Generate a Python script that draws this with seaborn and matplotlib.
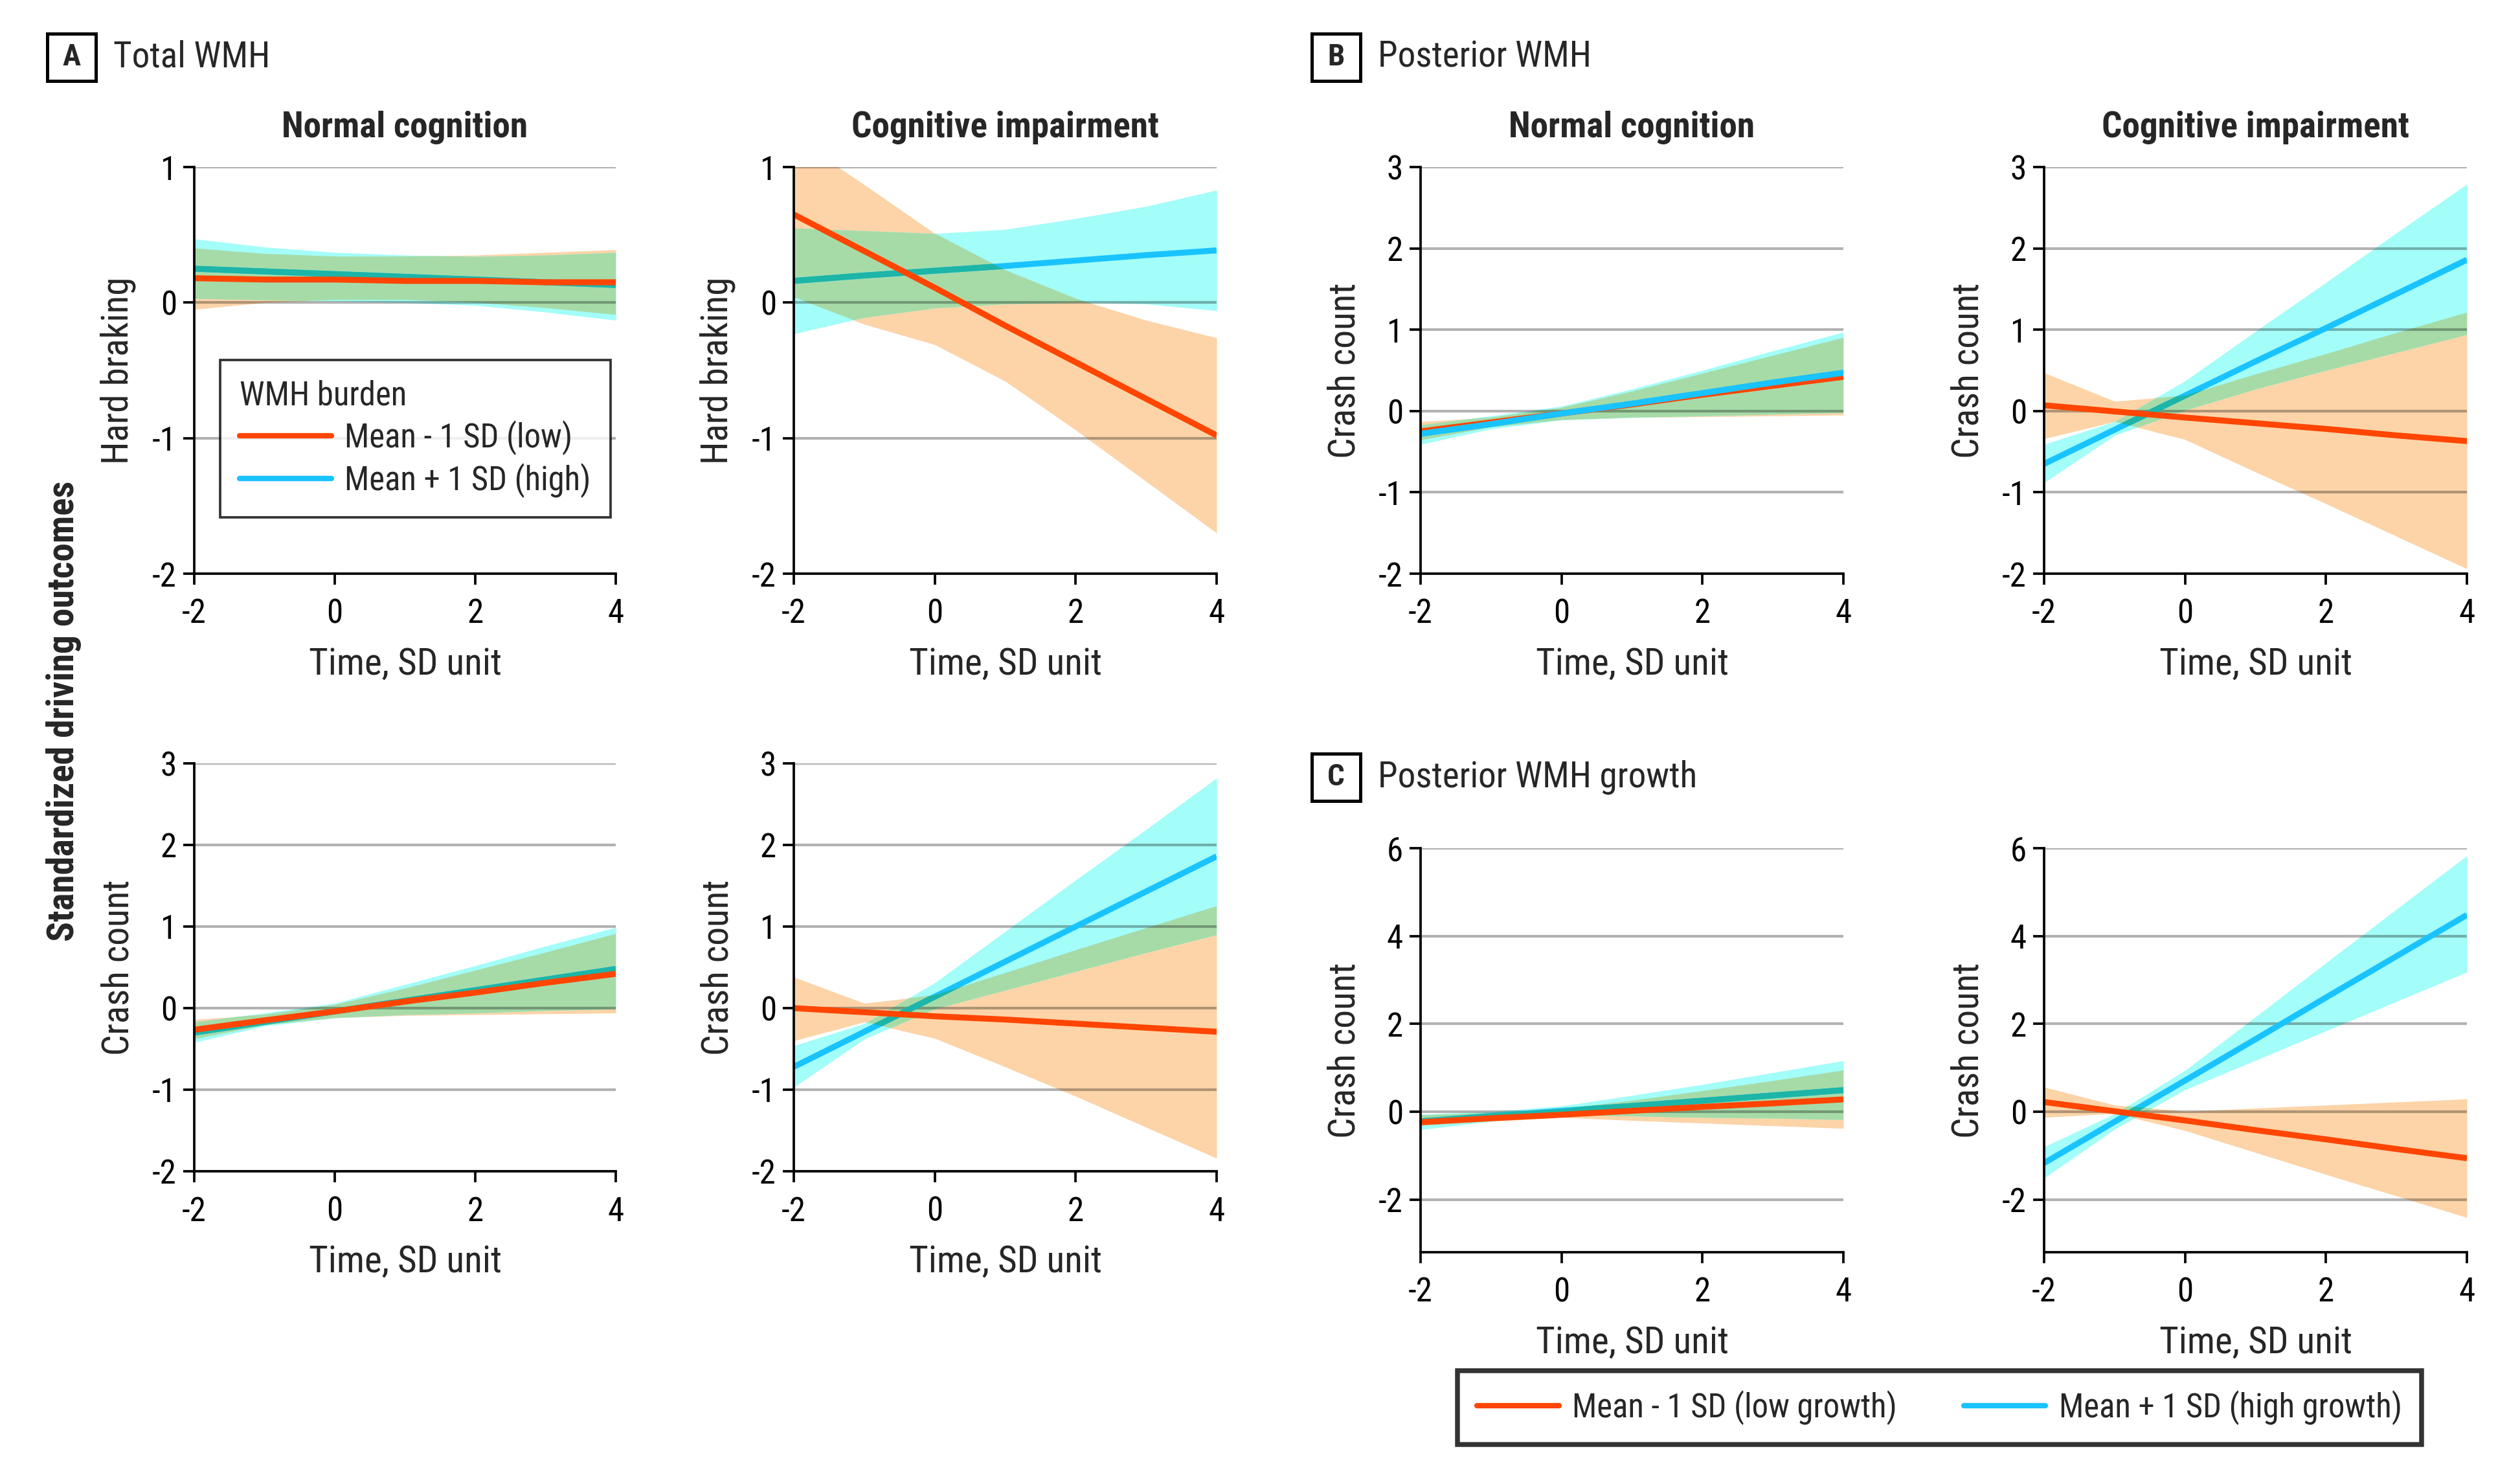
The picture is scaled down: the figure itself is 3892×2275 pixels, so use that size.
import dataclasses
import os
import matplotlib
matplotlib.use("Agg")
import matplotlib.pyplot as plt
import seaborn as sns
from matplotlib import font_manager
from matplotlib.lines import Line2D
from matplotlib.patches import Rectangle

# time points (SD units)
time = [-2, -1, 0, 1, 2, 3, 4]

# A. Total WMH - normal cognition - hard braking
a_nc_brake_low = [0.18, 0.17, 0.17, 0.16, 0.16, 0.15, 0.15]
a_nc_brake_low_lo = [-0.05, 0.00, 0.02, 0.02, 0.00, -0.04, -0.09]
a_nc_brake_low_hi = [0.40, 0.36, 0.34, 0.34, 0.35, 0.37, 0.39]
a_nc_brake_high = [0.25, 0.23, 0.21, 0.19, 0.17, 0.15, 0.13]
a_nc_brake_high_lo = [0.03, 0.02, 0.01, 0.00, -0.02, -0.07, -0.13]
a_nc_brake_high_hi = [0.47, 0.41, 0.37, 0.35, 0.34, 0.35, 0.37]

# A. Total WMH - cognitive impairment - hard braking
a_ci_brake_low = [0.65, 0.38, 0.11, -0.17, -0.44, -0.71, -0.98]
a_ci_brake_low_lo = [0.04, -0.16, -0.31, -0.58, -0.94, -1.32, -1.70]
a_ci_brake_low_hi = [1.22, 0.87, 0.51, 0.24, 0.03, -0.13, -0.26]
a_ci_brake_high = [0.16, 0.20, 0.235, 0.27, 0.31, 0.35, 0.385]
a_ci_brake_high_lo = [-0.23, -0.11, -0.04, -0.01, 0.00, -0.01, -0.06]
a_ci_brake_high_hi = [0.55, 0.53, 0.51, 0.54, 0.62, 0.71, 0.83]

# A. Total WMH - normal cognition - crash count
a_nc_crash_low = [-0.265, -0.15, -0.04, 0.08, 0.19, 0.31, 0.42]
a_nc_crash_low_lo = [-0.38, -0.21, -0.12, -0.09, -0.08, -0.07, -0.06]
a_nc_crash_low_hi = [-0.14, -0.08, 0.04, 0.24, 0.46, 0.68, 0.91]
a_nc_crash_high = [-0.30, -0.17, -0.04, 0.09, 0.22, 0.35, 0.48]
a_nc_crash_high_lo = [-0.42, -0.22, -0.12, -0.08, -0.06, -0.03, -0.01]
a_nc_crash_high_hi = [-0.17, -0.06, 0.06, 0.29, 0.52, 0.76, 0.99]

# A. Total WMH - cognitive impairment - crash count
a_ci_crash_low = [0.00, -0.05, -0.10, -0.14, -0.19, -0.24, -0.29]
a_ci_crash_low_lo = [-0.40, -0.17, -0.37, -0.72, -1.08, -1.46, -1.84]
a_ci_crash_low_hi = [0.38, 0.06, 0.16, 0.43, 0.71, 0.98, 1.25]
a_ci_crash_high = [-0.72, -0.29, 0.14, 0.57, 1.00, 1.43, 1.86]
a_ci_crash_high_lo = [-0.97, -0.38, -0.01, 0.22, 0.45, 0.68, 0.90]
a_ci_crash_high_hi = [-0.46, -0.19, 0.31, 0.94, 1.57, 2.19, 2.82]

# B. Posterior WMH - normal cognition - crash count
b_nc_crash_low = [-0.25, -0.14, -0.03, 0.08, 0.20, 0.31, 0.42]
b_nc_crash_low_lo = [-0.36, -0.20, -0.11, -0.08, -0.07, -0.06, -0.05]
b_nc_crash_low_hi = [-0.13, -0.08, 0.04, 0.24, 0.46, 0.68, 0.90]
b_nc_crash_high = [-0.28, -0.16, -0.03, 0.09, 0.22, 0.35, 0.47]
b_nc_crash_high_lo = [-0.41, -0.22, -0.11, -0.08, -0.06, -0.04, -0.02]
b_nc_crash_high_hi = [-0.17, -0.06, 0.06, 0.27, 0.50, 0.74, 0.97]

# B. Posterior WMH - cognitive impairment - crash count
b_ci_crash_low = [0.07, -0.005, -0.08, -0.15, -0.22, -0.30, -0.37]
b_ci_crash_low_lo = [-0.34, -0.13, -0.35, -0.75, -1.14, -1.54, -1.94]
b_ci_crash_low_hi = [0.47, 0.12, 0.19, 0.45, 0.70, 0.96, 1.21]
b_ci_crash_high = [-0.65, -0.23, 0.19, 0.61, 1.02, 1.44, 1.86]
b_ci_crash_high_lo = [-0.88, -0.30, 0.01, 0.27, 0.50, 0.72, 0.94]
b_ci_crash_high_hi = [-0.41, -0.13, 0.37, 0.98, 1.58, 2.19, 2.79]

# C. Posterior WMH growth - normal cognition - crash count
c_nc_crash_low = [-0.24, -0.15, -0.07, 0.02, 0.11, 0.19, 0.28]
c_nc_crash_low_lo = [-0.32, -0.22, -0.13, -0.20, -0.26, -0.32, -0.38]
c_nc_crash_low_hi = [-0.08, -0.03, 0.06, 0.25, 0.47, 0.70, 0.94]
c_nc_crash_high = [-0.22, -0.10, 0.02, 0.13, 0.25, 0.37, 0.49]
c_nc_crash_high_lo = [-0.41, -0.22, -0.07, -0.10, -0.13, -0.15, -0.18]
c_nc_crash_high_hi = [-0.06, 0.00, 0.13, 0.37, 0.62, 0.89, 1.16]

# C. Posterior WMH growth - cognitive impairment - crash count
c_ci_crash_low = [0.22, 0.01, -0.20, -0.42, -0.63, -0.85, -1.06]
c_ci_crash_low_lo = [-0.13, -0.04, -0.43, -0.93, -1.43, -1.92, -2.41]
c_ci_crash_low_hi = [0.56, 0.15, 0.01, 0.08, 0.15, 0.22, 0.29]
c_ci_crash_high = [-1.17, -0.23, 0.71, 1.65, 2.60, 3.54, 4.48]
c_ci_crash_high_lo = [-1.51, -0.40, 0.50, 1.17, 1.84, 2.51, 3.18]
c_ci_crash_high_hi = [-0.80, -0.05, 0.94, 2.16, 3.39, 4.61, 5.83]

xticks = [-2, 0, 2, 4]
yticks_brake = [-2, -1, 0, 1]
yticks_crash = [-2, -1, 0, 1, 2, 3]
yticks_growth = [-2, 0, 2, 4, 6]

legend_labels = ["Mean - 1 SD (low)", "Mean + 1 SD (high)"]
growth_labels = ["Mean - 1 SD (low growth)", "Mean + 1 SD (high growth)"]

ORANGE = "#ff4500"
BLUE = "#19c3ff"
TEAL = "#1cb5a8"
PEACH = "#fcd4a8"
CYAN = "#a3fdf8"
GREEN = "#a6dba8"
LW = 2.2


# pick a condensed sans face if one is installed
def wnum(w):
    if isinstance(w, (int, float)):
        return int(w)
    return font_manager.weight_dict.get(str(w).lower(), 400)


def pick_condensed():
    keys = [("liberationsansnarrow", 1.0), ("robotocondensed", 0.98),
            ("notosanscondensed", 0.93), ("opensanscondensed", 0.93),
            ("dejavusanscondensed", 0.9), ("notosanssemicondensed", 0.88)]
    entries = font_manager.fontManager.ttflist
    for key, scale in keys:
        reg = bold = None
        for f in entries:
            base = os.path.splitext(os.path.basename(f.fname))[0].lower()
            base = base.replace("-", "").replace("_", "").replace(" ", "")
            if not base.startswith(key) or f.style != "normal":
                continue
            rest = base[len(key):]
            if key == "notosanscondensed" and rest.startswith(("semi", "extra")):
                continue
            w = wnum(f.weight)
            if w == 400 and reg is None and rest in ("", "regular"):
                reg = f
            elif w == 700 and bold is None and rest in ("bold",):
                bold = f
        if reg is not None:
            entries.append(dataclasses.replace(reg, name="CondSansPick", weight=400, stretch="normal"))
            if bold is not None:
                entries.append(dataclasses.replace(bold, name="CondSansPick", weight=700, stretch="normal"))
            return "CondSansPick", scale
    return "Liberation Sans", 0.85


FONT, S = pick_condensed()

sns.set_theme(style="white")
plt.rcParams["font.family"] = [FONT, "Liberation Sans", "DejaVu Sans"]
plt.rcParams["axes.unicode_minus"] = False

W, H = 3892, 2275
fig = plt.figure(figsize=(W / 300, H / 300), dpi=300)


def px_axes(left, right, top, bottom):
    return fig.add_axes([left / W, 1 - bottom / H, (right - left) / W, (bottom - top) / H])


def draw_panel(ax, low, low_lo, low_hi, high, high_lo, high_hi, ylim, yticks,
               ylabel, title=None, blue_on_top=False):
    band_o = ax.fill_between(time, low_lo, low_hi, color=PEACH, lw=0, zorder=1)
    ax.fill_between(time, high_lo, high_hi, color=CYAN, lw=0, zorder=1.1)
    band_g = ax.fill_between(time, high_lo, high_hi, color=GREEN, lw=0, zorder=1.2)
    clip = band_o.get_paths()[0]
    band_g.set_clip_path(clip, ax.transData)

    sns.lineplot(x=time, y=high, color=BLUE, lw=LW, ax=ax, zorder=2)
    if not blue_on_top:
        sns.lineplot(x=time, y=high, color=TEAL, lw=LW, ax=ax, zorder=2.1)
        ax.lines[-1].set_clip_path(clip, ax.transData)
    sns.lineplot(x=time, y=low, color=ORANGE, lw=LW, ax=ax, zorder=2.2)
    if blue_on_top:
        sns.lineplot(x=time, y=high, color=BLUE, lw=LW, ax=ax, zorder=2.3)
    for ln in ax.lines:
        ln.set_solid_capstyle("butt")

    ax.set_xlim(-2, 4)
    ax.set_ylim(*ylim)
    ax.set_xticks(xticks)
    ax.set_yticks(yticks)
    ax.set_xticklabels([str(t) for t in xticks])
    ax.set_yticklabels([str(t) for t in yticks])
    ax.grid(axis="y", color="black", alpha=0.3, lw=1.0)
    ax.grid(axis="x", visible=False)
    ax.set_axisbelow("line")
    sns.despine(ax=ax)
    for sp in ("left", "bottom"):
        ax.spines[sp].set_color("black")
        ax.spines[sp].set_linewidth(0.9)
    ax.tick_params(direction="out", length=4, width=0.9, colors="black",
                   labelsize=12.5 * S, left=True, bottom=True)
    ax.tick_params(axis="x", pad=5)
    ax.tick_params(axis="y", pad=2.5)
    ax.set_xlabel("Time, SD unit", fontsize=14 * S, labelpad=6)
    ax.set_ylabel(ylabel, fontsize=14 * S, labelpad=6)
    if title:
        ax.set_title(title, fontsize=13.5 * S, fontweight="bold", pad=11)


cols = [(300, 951), (1226, 1879), (2194, 2847), (3157, 3810)]
row1 = (258, 886)
row2 = (1179, 1809)
rowc = (1310, 1934)

ax_a1 = px_axes(*cols[0], *row1)
draw_panel(ax_a1, a_nc_brake_low, a_nc_brake_low_lo, a_nc_brake_low_hi,
           a_nc_brake_high, a_nc_brake_high_lo, a_nc_brake_high_hi,
           (-2, 1), yticks_brake, "Hard braking", "Normal cognition")
ax_a2 = px_axes(*cols[1], *row1)
draw_panel(ax_a2, a_ci_brake_low, a_ci_brake_low_lo, a_ci_brake_low_hi,
           a_ci_brake_high, a_ci_brake_high_lo, a_ci_brake_high_hi,
           (-2, 1), yticks_brake, "Hard braking", "Cognitive impairment")
ax_a3 = px_axes(*cols[0], *row2)
draw_panel(ax_a3, a_nc_crash_low, a_nc_crash_low_lo, a_nc_crash_low_hi,
           a_nc_crash_high, a_nc_crash_high_lo, a_nc_crash_high_hi,
           (-2, 3), yticks_crash, "Crash count")
ax_a4 = px_axes(*cols[1], *row2)
draw_panel(ax_a4, a_ci_crash_low, a_ci_crash_low_lo, a_ci_crash_low_hi,
           a_ci_crash_high, a_ci_crash_high_lo, a_ci_crash_high_hi,
           (-2, 3), yticks_crash, "Crash count")
ax_b1 = px_axes(*cols[2], *row1)
draw_panel(ax_b1, b_nc_crash_low, b_nc_crash_low_lo, b_nc_crash_low_hi,
           b_nc_crash_high, b_nc_crash_high_lo, b_nc_crash_high_hi,
           (-2, 3), yticks_crash, "Crash count", "Normal cognition", blue_on_top=True)
ax_b2 = px_axes(*cols[3], *row1)
draw_panel(ax_b2, b_ci_crash_low, b_ci_crash_low_lo, b_ci_crash_low_hi,
           b_ci_crash_high, b_ci_crash_high_lo, b_ci_crash_high_hi,
           (-2, 3), yticks_crash, "Crash count", "Cognitive impairment")
ax_c1 = px_axes(*cols[2], *rowc)
draw_panel(ax_c1, c_nc_crash_low, c_nc_crash_low_lo, c_nc_crash_low_hi,
           c_nc_crash_high, c_nc_crash_high_lo, c_nc_crash_high_hi,
           (-3.2, 6), yticks_growth, "Crash count")
ax_c2 = px_axes(*cols[3], *rowc)
draw_panel(ax_c2, c_ci_crash_low, c_ci_crash_low_lo, c_ci_crash_low_hi,
           c_ci_crash_high, c_ci_crash_high_lo, c_ci_crash_high_hi,
           (-3.2, 6), yticks_growth, "Crash count")

# legend inside panel A
handles = [Line2D([], [], color=ORANGE, lw=2.0), Line2D([], [], color=BLUE, lw=2.0)]
leg = ax_a1.legend(handles, legend_labels, title="WMH burden", loc="upper left",
                   bbox_to_anchor=(0.0614, 0.150, 0.927, 0.3755), mode="expand",
                   borderaxespad=0, frameon=True, fancybox=False, edgecolor="black",
                   alignment="left", handlelength=2.8, handletextpad=0.4,
                   labelspacing=0.25, borderpad=0.6, fontsize=12.4 * S,
                   title_fontsize=12.4 * S)
leg.get_frame().set_linewidth(0.9)
leg.set_zorder(5)

# bottom legend for panel C
leg2 = fig.legend(handles, growth_labels, loc="center", ncol=2,
                  bbox_to_anchor=(2251 / W, 1 - 2231 / H, 1489 / W, 114 / H),
                  mode="expand", borderaxespad=0, frameon=True, fancybox=False,
                  edgecolor="black", handlelength=2.5, handletextpad=0.4,
                  columnspacing=1.0, borderpad=0.6, fontsize=12.4 * S)
leg2.get_frame().set_linewidth(1.8)

# section labels
box_w, box_h = 75 / W, 73 / H
for bx, by, letter, text in [(73, 88, "A", "Total WMH"),
                             (2026, 88, "B", "Posterior WMH"),
                             (2026, 1200, "C", "Posterior WMH growth")]:
    fig.add_artist(Rectangle((bx / W, 1 - by / H - box_h / 2), box_w, box_h,
                             transform=fig.transFigure, fill=False,
                             ec="black", lw=1.2))
    fig.text((bx + 37.5) / W, 1 - by / H, letter, ha="center", va="center",
             fontsize=11.5 * S, fontweight="bold")
    fig.text((bx + 102) / W, 1 - by / H, text, ha="left", va="center",
             fontsize=13.5 * S)

fig.text(99 / W, 1 - 1098 / H, "Standardized driving outcomes", rotation=90,
         ha="center", va="center", fontsize=14 * S, fontweight="bold")

fig.savefig("out.png", dpi=300, facecolor="white")
